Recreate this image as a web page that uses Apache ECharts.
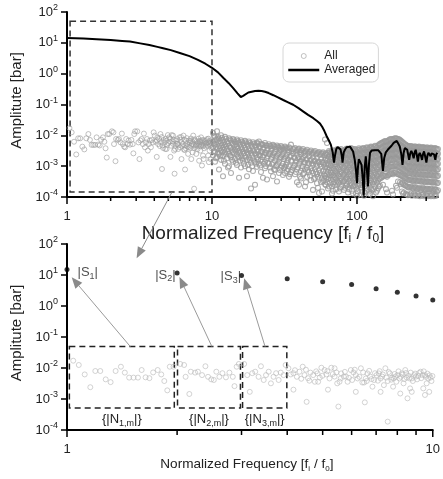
<!DOCTYPE html>
<html>
<head>
<meta charset="utf-8">
<script src="https://cdn.jsdelivr.net/npm/echarts@6/dist/echarts.min.js"></script>
<style>
  html, body { margin: 0; padding: 0; background: #fff; }
  #chart { width: 443px; height: 479px; }
</style>
</head>
<body>
<div id="chart"></div>
<script>
// ---------------- data ----------------
// Harmonic peak amplitudes |S_k| at f/f0 = 1..10
const harmonicF = [1, 2, 3, 4, 5, 6, 7, 8, 9, 10];
const harmonicAmp = [15, 11.6, 9.6, 7.6, 6.1, 4.9, 3.6, 2.8, 2.1, 1.56];
const labelledHarmonics = 3;

// Spectral noise samples below f/f0 = 10: [f/f0, amplitude]
const lowBandPts = [
  [1.04,0.0172],[1.077,0.0125],[1.118,0.0062],[1.158,0.0024],[1.195,0.008],[1.233,0.008],
  [1.276,0.0043],[1.316,0.0035],[1.358,0.008],[1.404,0.011],[1.439,0.0071],[1.479,0.0049],
  [1.52,0.0049],[1.563,0.0049],[1.60,0.0086],[1.64,0.005],[1.68,0.0047],[1.72,0.0072],
  [1.77,0.0086],[1.81,0.0062],[1.845,0.0038],[1.88,0.0019],[1.91,0.011],[1.955,0.011],
  [2.04,0.0135],[2.09,0.0125],[2.11,0.0052],[2.16,0.00145],[2.18,0.0076],[2.24,0.0071],
  [2.28,0.0076],[2.34,0.0059],[2.39,0.0114],[2.43,0.0052],[2.48,0.0043],[2.52,0.0041],
  [2.56,0.0076],[2.61,0.0052],[2.66,0.0068],[2.72,0.005],[2.78,0.0071],[2.84,0.0052],
  [2.87,0.0026],[2.91,0.011],[2.95,0.0135],
  [3.05,0.0135],[3.11,0.0059],[3.16,0.0017],[3.21,0.0068],[3.27,0.0076],[3.34,0.0052],
  [3.39,0.0114],[3.45,0.0041],[3.5,0.0059],[3.56,0.0076],[3.61,0.0032],[3.67,0.0052],
  [3.73,0.0068],[3.79,0.0041],[3.84,0.0071],[3.91,0.0059],[3.96,0.0125],
  [4.03,0.0098],[4.09,0.0062],[4.16,0.0068],[4.16,0.002],[4.2,0.0085],[4.25,0.0052],
  [4.32,0.0076],[4.37,0.0045],[4.41,0.011],[4.46,0.0059],[4.5,0.0088],[4.52,0.00081],
  [4.56,0.0047],[4.6,0.0039],[4.63,0.0071],
  [4.71,0.0059],[4.76,0.0036],[4.8,0.0078],[4.84,0.0067],[4.86,0.0036],[4.91,0.0049],
  [4.96,0.0102],[4.99,0.0056],[5.06,0.0086],[5.12,0.0062],[5.15,0.0079],[5.17,0.002],
  [5.22,0.0046],[5.28,0.0102],[5.33,0.0064],[5.39,0.0098],[5.39,0.0053],[5.45,0.0072],
  [5.48,0.0032],[5.52,0.00057],[5.56,0.0036],[5.6,0.0046],[5.62,0.0067],[5.71,0.0053],
  [5.75,0.0075],[5.79,0.0053],[5.85,0.0036],[5.9,0.0048],[5.97,0.0086],[6.02,0.0041],
  [6.07,0.0072],[6.12,0.0088],[6.16,0.0059],[6.16,0.0017],[6.23,0.0046],[6.3,0.0052],
  [6.36,0.0098],[6.42,0.0034],[6.45,0.0072],[6.49,0.0034],[6.52,0.00078],[6.56,0.0046],
  [6.6,0.0038],[6.63,0.0067],[6.7,0.0081],[6.74,0.0053],[6.8,0.0044],[6.84,0.0025],
  [6.91,0.0041],[6.95,0.0068],[7.02,0.0059],[7.08,0.0039],[7.12,0.0067],[7.16,0.0079],
  [7.2,0.0046],[7.2,0.0017],[7.27,0.0053],[7.3,0.0062],[7.35,0.0028],[7.42,0.0098],
  [7.46,0.0049],[7.53,0.0038],[7.53,0.000186],[7.58,0.0074],[7.63,0.0067],[7.7,0.0042],
  [7.74,0.0049],[7.79,0.0025],[7.82,0.0046],[7.86,0.0064],[7.9,0.0053],[7.95,0.0036],
  [8.01,0.0059],[8.06,0.0078],[8.11,0.0046],[8.15,0.0015],[8.18,0.0052],[8.23,0.0067],
  [8.28,0.0061],[8.32,0.0032],[8.36,0.0044],[8.41,0.0086],[8.45,0.0069],[8.49,0.0049],
  [8.53,0.00105],[8.58,0.0057],[8.64,0.0046],[8.67,0.0022],[8.7,0.0071],[8.76,0.0046],
  [8.76,0.0017],[8.82,0.0038],[8.89,0.0059],[8.95,0.0066],[9.0,0.0053],[9.06,0.0043],
  [9.13,0.0055],[9.18,0.0069],[9.26,0.0076],[9.3,0.0047],[9.38,0.0059],[9.42,0.0022],
  [9.45,0.0078],[9.52,0.0059],[9.52,0.00135],[9.57,0.0052],[9.62,0.0032],[9.67,0.0066],
  [9.72,0.0046],[9.78,0.0017],[9.8,0.0058],[9.86,0.0049],[9.92,0.0038],[9.98,0.0055]
];

// Spectral noise samples above f/f0 = 10, one row per frequency: [f/f0, amplitudes...]
const highBandCols = [
  [10.16, 1.2e-2, 6.3e-3, 4.0e-3, 2.2e-3],
  [10.49, 8.9e-3, 5.0e-3, 2.8e-3, 1.4e-3],
  [10.83, 1.35e-2, 7.1e-3, 3.6e-3, 2.0e-3],
  [11.18, 7.9e-3, 4.5e-3, 2.5e-3, 7.8e-4],
  [11.54, 1.0e-2, 5.6e-3, 3.2e-3, 1.6e-3],
  [11.91, 7.1e-3, 4.0e-3, 2.2e-3, 4.7e-4],
  [12.29, 8.9e-3, 5.0e-3, 2.8e-3, 1.2e-3],
  [12.69, 6.3e-3, 3.6e-3, 1.8e-3],
  [13.10, 8.1e-3, 4.5e-3, 2.5e-3, 1.0e-3],
  [13.52, 6.8e-3, 3.9e-3, 2.0e-3, 6.0e-4],
  [13.96, 7.6e-3, 5.2e-3, 2.9e-3, 1.4e-3],
  [14.41, 6.1e-3, 3.4e-3, 1.7e-3],
  [14.87, 7.3e-3, 4.3e-3, 2.4e-3, 1.1e-3],
  [15.36, 5.8e-3, 3.2e-3, 1.9e-3, 4.2e-4],
  [15.85, 6.9e-3, 4.1e-3, 2.2e-3, 9.0e-4],
  [16.36, 5.5e-3, 3.0e-3, 1.5e-3],
  [16.89, 6.6e-3, 3.8e-3, 2.1e-3, 1.0e-3],
  [17.43, 5.2e-3, 2.9e-3, 1.6e-3, 4.7e-4],
  [17.99, 6.3e-3, 3.5e-3, 1.9e-3, 8.0e-4],
  [18.58, 5.0e-3, 2.7e-3, 1.3e-3, 1.9e-4],
  [19.17, 6.0e-3, 3.3e-3, 1.8e-3, 7.0e-4],
  [19.80, 4.8e-3, 2.6e-3, 1.4e-3, 2.5e-4],
  [20.43, 5.8e-3, 3.4e-3, 1.9e-3, 9.5e-4],
  [21.09, 6.3e-3, 4.3e-3, 2.4e-3, 1.2e-3],
  [21.77, 5.3e-3, 3.0e-3, 1.6e-3, 6.5e-4],
  [22.47, 4.9e-3, 3.6e-3, 2.0e-3, 4.2e-4],
  [23.20, 5.6e-3, 2.7e-3, 1.4e-3, 8.5e-4],
  [23.95, 4.6e-3, 3.3e-3, 1.8e-3, 3.7e-4],
  [24.72, 5.1e-3, 2.5e-3, 1.2e-3],
  [25.52, 4.4e-3, 3.1e-3, 1.7e-3, 6.8e-4],
  [26.34, 4.9e-3, 2.3e-3, 1.3e-3, 4.7e-4],
  [27.19, 4.2e-3, 2.9e-3, 1.5e-3, 7.5e-4],
  [28.07, 4.7e-3, 2.2e-3, 1.1e-3, 3.2e-4],
  [28.97, 4.0e-3, 2.7e-3, 1.4e-3, 6.0e-4],
  [29.91, 4.5e-3, 3.3e-3, 2.0e-3, 9.0e-4],
  [30.87, 3.8e-3, 2.5e-3, 1.2e-3, 5.2e-4],
  [31.87, 4.3e-3, 1.9e-3, 9.5e-4, 6.0e-4],
  [32.90, 3.7e-3, 2.4e-3, 1.3e-3, 7.0e-4],
  [33.96, 4.1e-3, 2.9e-3, 1.0e-3, 4.5e-4],
  [35.05, 5.0e-3, 2.2e-3, 1.5e-3, 6.5e-4],
  [36.19, 3.5e-3, 2.6e-3, 9.0e-4],
  [37.35, 3.9e-3, 1.8e-3, 1.1e-3, 5.5e-4],
  [38.56, 3.3e-3, 2.3e-3, 8.0e-4, 3.0e-4],
  [39.81, 3.7e-3, 2.0e-3, 1.2e-3, 2.5e-4],
  [41.09, 3.2e-3, 2.4e-3, 1.5e-3, 7.0e-4, 4.0e-4],
  [42.42, 3.6e-3, 1.9e-3, 1.0e-3, 5.5e-4],
  [43.79, 3.0e-3, 2.2e-3, 1.3e-3, 8.0e-4, 2.2e-4],
  [45.20, 3.4e-3, 1.7e-3, 9.0e-4, 4.5e-4],
  [46.67, 2.9e-3, 2.1e-3, 1.2e-3, 6.5e-4],
  [48.17, 3.2e-3, 1.6e-3, 8.5e-4, 3.5e-4],
  [49.72, 2.7e-3, 1.9e-3, 1.1e-3, 6.0e-4, 1.7e-4],
  [51.33, 3.1e-3, 1.5e-3, 8.0e-4, 4.2e-4],
  [52.99, 2.6e-3, 1.8e-3, 1.0e-3, 5.5e-4, 2.8e-4],
  [54.70, 2.9e-3, 1.4e-3, 7.5e-4, 1.35e-4],
  [56.46, 2.5e-3, 1.7e-3, 9.5e-4, 5.0e-4, 3.0e-4],
  [58.29, 2.8e-3, 1.3e-3, 7.0e-4, 3.2e-4],
  [60.17, 7.3e-3, 2.4e-3, 1.6e-3, 9.0e-4, 4.8e-4, 2.6e-4],
  [62.11, 5.6e-3, 2.3e-3, 1.5e-3, 9.0e-4, 5.5e-4, 3.0e-4],
  [64.11, 3.1e-3, 2.0e-3, 1.2e-3, 7.5e-4, 4.2e-4, 2.2e-4],
  [66.18, 2.6e-3, 1.7e-3, 1.05e-3, 6.2e-4, 3.6e-4],
  [68.32, 3.3e-3, 2.2e-3, 1.4e-3, 8.5e-4, 5.0e-4, 2.7e-4, 1.6e-4],
  [70.52, 2.8e-3, 1.9e-3, 1.15e-3, 7.0e-4, 4.4e-4, 2.4e-4],
  [72.80, 3.5e-3, 2.4e-3, 1.6e-3, 9.5e-4, 5.8e-4, 3.4e-4],
  [75.15, 3.0e-3, 2.0e-3, 1.3e-3, 8.0e-4, 4.8e-4, 2.9e-4, 1.5e-4],
  [77.58, 3.6e-3, 2.5e-3, 1.7e-3, 1.1e-3, 6.5e-4, 3.9e-4, 2.1e-4],
  [80.08, 2.9e-3, 2.1e-3, 1.4e-3, 8.8e-4, 5.3e-4, 3.1e-4],
  [82.67, 3.4e-3, 2.3e-3, 1.5e-3, 1.0e-3, 6.0e-4, 3.6e-4, 2.0e-4],
  [85.33, 3.7e-3, 2.6e-3, 1.8e-3, 1.2e-3, 7.3e-4, 4.3e-4, 2.6e-4],
  [88.09, 3.1e-3, 2.2e-3, 1.45e-3, 9.2e-4, 5.6e-4, 3.3e-4, 1.8e-4],
  [90.93, 3.9e-3, 2.7e-3, 1.9e-3, 1.25e-3, 7.8e-4, 4.7e-4, 2.8e-4],
  [93.86, 3.3e-3, 2.3e-3, 1.55e-3, 1.0e-3, 6.1e-4, 3.7e-4, 2.2e-4, 1.3e-4],
  [96.89, 3.6e-3, 2.5e-3, 1.7e-3, 1.1e-3, 6.8e-4, 4.1e-4, 2.4e-4],
  [100.0, 3.0e-3, 2.1e-3, 1.4e-3, 9.0e-4, 5.4e-4, 3.2e-4, 1.9e-4, 1.1e-4],
  [103.2, 3.8e-3, 2.6e-3, 1.8e-3, 1.2e-3, 7.4e-4, 4.5e-4, 2.7e-4],
  [106.6, 3.2e-3, 2.2e-3, 1.5e-3, 9.8e-4, 6.0e-4, 3.5e-4, 2.0e-4, 1.2e-4],
  [110.0, 3.9e-3, 2.8e-3, 1.9e-3, 1.3e-3, 8.2e-4, 5.0e-4, 3.0e-4],
  [113.6, 3.4e-3, 2.4e-3, 1.6e-3, 1.05e-3, 6.6e-4, 3.9e-4, 2.3e-4, 1.4e-4],
  [117.2, 4.1e-3, 2.9e-3, 2.0e-3, 1.3e-3, 8.6e-4, 5.2e-4, 3.1e-4],
  [121.0, 3.5e-3, 2.5e-3, 1.7e-3, 1.1e-3, 7.0e-4, 4.2e-4, 2.5e-4, 1.5e-4],
  [124.9, 4.3e-3, 3.0e-3, 2.1e-3, 1.4e-3, 9.0e-4, 5.6e-4, 3.4e-4, 1.9e-4],
  [128.9, 3.7e-3, 2.6e-3, 1.8e-3, 1.2e-3, 7.6e-4, 4.6e-4, 2.7e-4, 1.05e-4],
  [133.1, 4.6e-3, 3.2e-3, 2.2e-3, 1.5e-3, 9.6e-4, 6.0e-4, 3.6e-4, 2.1e-4],
  [137.4, 4.0e-3, 2.8e-3, 1.9e-3, 1.25e-3, 8.0e-4, 4.9e-4, 2.9e-4, 1.6e-4],
  [141.8, 5.0e-3, 3.5e-3, 2.4e-3, 1.6e-3, 1.05e-3, 6.4e-4, 3.8e-4, 2.2e-4],
  [146.4, 5.5e-3, 3.9e-3, 2.7e-3, 1.8e-3, 1.15e-3, 7.0e-4, 4.2e-4],
  [151.1, 6.0e-3, 4.2e-3, 2.9e-3, 1.9e-3, 1.25e-3, 7.8e-4, 4.7e-4, 2.5e-4],
  [156.0, 6.5e-3, 4.6e-3, 3.2e-3, 2.1e-3, 1.35e-3, 8.4e-4, 5.0e-4],
  [161.0, 6.2e-3, 4.4e-3, 3.0e-3, 2.0e-3, 1.3e-3, 8.0e-4, 4.5e-4, 1.4e-4],
  [166.2, 7.1e-3, 5.0e-3, 3.5e-3, 2.3e-3, 1.5e-3, 9.0e-4, 5.3e-4],
  [171.6, 7.6e-3, 5.4e-3, 3.7e-3, 2.5e-3, 1.6e-3, 1.0e-3, 6.0e-4],
  [177.2, 7.3e-3, 5.2e-3, 3.6e-3, 2.4e-3, 1.55e-3, 9.5e-4, 5.5e-4, 1.2e-4],
  [182.9, 8.0e-3, 5.6e-3, 3.9e-3, 2.6e-3, 1.7e-3, 1.05e-3, 6.3e-4],
  [188.8, 7.8e-3, 5.5e-3, 3.8e-3, 2.5e-3, 1.6e-3, 9.8e-4, 5.7e-4, 2.0e-4],
  [194.9, 7.4e-3, 5.1e-3, 3.5e-3, 2.3e-3, 1.5e-3, 9.2e-4, 5.4e-4],
  [201.1, 6.6e-3, 4.6e-3, 3.2e-3, 2.1e-3, 1.4e-3, 8.6e-4, 5.0e-4, 2.6e-4],
  [207.6, 5.8e-3, 4.1e-3, 2.8e-3, 1.9e-3, 1.25e-3, 7.7e-4, 4.6e-4, 2.7e-4, 1.3e-4],
  [214.3, 5.1e-3, 3.6e-3, 2.5e-3, 1.7e-3, 1.1e-3, 6.9e-4, 4.1e-4, 2.4e-4],
  [221.3, 4.6e-3, 3.3e-3, 2.3e-3, 1.5e-3, 1.0e-3, 6.3e-4, 3.8e-4, 2.2e-4, 1.2e-4],
  [228.4, 4.3e-3, 3.0e-3, 2.1e-3, 1.4e-3, 9.2e-4, 5.8e-4, 3.5e-4, 2.0e-4],
  [235.8, 4.5e-3, 3.2e-3, 2.2e-3, 1.5e-3, 9.8e-4, 6.1e-4, 3.7e-4, 2.2e-4, 1.3e-4],
  [243.4, 4.1e-3, 2.9e-3, 2.0e-3, 1.35e-3, 8.8e-4, 5.5e-4, 3.3e-4, 1.9e-4],
  [251.2, 4.4e-3, 3.1e-3, 2.2e-3, 1.45e-3, 9.5e-4, 6.0e-4, 3.6e-4, 2.1e-4, 1.15e-4],
  [259.4, 4.0e-3, 2.8e-3, 1.95e-3, 1.3e-3, 8.5e-4, 5.3e-4, 3.2e-4, 1.8e-4],
  [267.7, 4.3e-3, 3.0e-3, 2.1e-3, 1.4e-3, 9.2e-4, 5.8e-4, 3.5e-4, 2.0e-4, 1.1e-4],
  [276.4, 3.9e-3, 2.8e-3, 1.9e-3, 1.3e-3, 8.4e-4, 5.2e-4, 3.1e-4, 1.7e-4],
  [285.3, 4.2e-3, 3.0e-3, 2.0e-3, 1.4e-3, 9.0e-4, 5.6e-4, 3.4e-4, 2.0e-4, 1.2e-4],
  [294.4, 3.8e-3, 2.7e-3, 1.85e-3, 1.25e-3, 8.2e-4, 5.1e-4, 3.0e-4, 1.7e-4],
  [304.0, 4.1e-3, 2.9e-3, 2.0e-3, 1.35e-3, 8.9e-4, 5.5e-4, 3.3e-4, 1.9e-4, 1.1e-4],
  [313.8, 3.7e-3, 2.6e-3, 1.8e-3, 1.2e-3, 8.0e-4, 5.0e-4, 3.0e-4, 1.7e-4],
  [323.9, 4.0e-3, 2.8e-3, 1.95e-3, 1.3e-3, 8.6e-4, 5.4e-4, 3.2e-4, 1.9e-4, 1.05e-4],
  [334.4, 3.6e-3, 2.5e-3, 1.75e-3, 1.2e-3, 7.8e-4, 4.8e-4, 2.9e-4, 1.6e-4],
  [345.1, 3.9e-3, 2.7e-3, 1.9e-3, 1.3e-3, 8.4e-4, 5.2e-4, 3.1e-4, 1.8e-4, 1.1e-4],
  [356.2, 3.5e-3, 2.5e-3, 1.7e-3, 1.15e-3, 7.5e-4, 4.7e-4, 2.8e-4, 1.5e-4]
];

// Further samples of the same band, at the frequency bins in between
const highBandColsB = [
  [10.32, 9.5e-3, 5.4e-3, 3.1e-3], [10.66, 7.5e-3, 4.2e-3, 1.8e-3], [11.00, 9.0e-3, 5.8e-3, 2.7e-3],
  [11.36, 6.6e-3, 3.8e-3, 2.1e-3], [11.72, 8.4e-3, 4.8e-3, 2.9e-3], [12.10, 6.0e-3, 3.4e-3, 1.5e-3],
  [12.49, 7.7e-3, 4.4e-3, 2.4e-3], [12.89, 5.4e-3, 3.0e-3, 9.0e-4], [13.31, 7.3e-3, 4.1e-3, 2.2e-3],
  [13.74, 5.6e-3, 3.2e-3, 1.6e-3], [14.18, 6.9e-3, 4.6e-3, 2.6e-3], [14.64, 5.2e-3, 3.0e-3, 1.3e-3],
  [15.11, 6.5e-3, 3.7e-3, 2.0e-3], [15.60, 5.0e-3, 2.8e-3, 1.5e-3], [16.10, 6.2e-3, 3.5e-3, 1.8e-3],
  [16.62, 4.8e-3, 2.6e-3, 1.2e-3], [17.16, 5.9e-3, 3.3e-3, 1.9e-3], [17.71, 4.6e-3, 2.5e-3, 1.1e-3],
  [18.28, 5.6e-3, 3.1e-3, 1.6e-3], [18.87, 4.4e-3, 2.3e-3, 1.0e-3], [19.48, 5.3e-3, 3.0e-3, 1.5e-3],
  [20.11, 4.3e-3, 2.4e-3, 1.2e-3], [20.76, 5.2e-3, 2.9e-3, 1.6e-3], [21.43, 4.2e-3, 2.2e-3, 1.05e-3],
  [22.12, 5.0e-3, 2.8e-3, 1.4e-3], [22.83, 4.0e-3, 2.3e-3, 1.2e-3], [23.57, 4.8e-3, 2.6e-3, 1.0e-3],
  [24.33, 3.9e-3, 2.1e-3, 1.3e-3], [25.12, 4.6e-3, 2.5e-3, 9.0e-4], [25.93, 3.8e-3, 2.0e-3, 1.15e-3],
  [26.76, 4.5e-3, 2.6e-3, 8.0e-4], [27.63, 3.6e-3, 1.9e-3, 1.0e-3], [28.52, 4.3e-3, 2.4e-3, 1.2e-3],
  [29.44, 3.5e-3, 1.8e-3, 7.5e-4], [30.39, 4.1e-3, 2.2e-3, 1.0e-3], [31.37, 3.4e-3, 1.7e-3, 8.5e-4],
  [32.38, 3.9e-3, 2.1e-3, 1.1e-3], [33.42, 3.3e-3, 1.6e-3, 8.0e-4], [34.50, 3.8e-3, 2.0e-3, 5.5e-4],
  [35.62, 3.1e-3, 1.5e-3, 7.5e-4], [36.77, 3.6e-3, 1.9e-3, 1.0e-3], [37.95, 3.0e-3, 1.45e-3, 6.5e-4],
  [39.18, 3.5e-3, 1.8e-3, 9.0e-4], [40.44, 2.9e-3, 1.4e-3, 4.5e-4], [41.75, 3.3e-3, 1.7e-3, 8.5e-4],
  [43.09, 2.8e-3, 1.35e-3, 6.0e-4], [44.48, 3.1e-3, 1.6e-3, 3.0e-4], [45.92, 2.6e-3, 1.3e-3, 7.5e-4],
  [47.40, 3.0e-3, 1.5e-3, 5.0e-4], [48.93, 2.5e-3, 1.25e-3, 7.0e-4], [50.51, 2.9e-3, 1.45e-3, 3.8e-4],
  [52.14, 2.4e-3, 1.2e-3, 6.5e-4], [53.82, 2.7e-3, 1.4e-3, 4.5e-4, 2.0e-4], [55.56, 2.3e-3, 1.15e-3, 6.0e-4],
  [57.35, 2.6e-3, 1.35e-3, 4.0e-4, 1.5e-4], [59.20, 2.2e-3, 1.1e-3, 5.5e-4, 3.5e-4],
  [61.1, 2.6e-3, 1.8e-3, 1.15e-3, 7.0e-4, 4.2e-4, 2.4e-4],
  [63.1, 2.7e-3, 1.75e-3, 1.1e-3, 6.5e-4, 3.8e-4, 1.9e-4],
  [65.1, 2.9e-3, 2.2e-3, 1.4e-3, 8.5e-4, 5.0e-4, 2.9e-4],
  [67.2, 3.0e-3, 1.9e-3, 1.25e-3, 7.5e-4, 4.5e-4, 2.2e-4, 1.3e-4],
  [69.4, 3.1e-3, 2.1e-3, 1.35e-3, 8.2e-4, 5.2e-4, 3.0e-4],
  [71.7, 3.2e-3, 2.2e-3, 1.35e-3, 8.2e-4, 5.0e-4, 2.9e-4, 1.8e-4],
  [73.9, 3.3e-3, 2.2e-3, 1.45e-3, 8.8e-4, 5.3e-4, 3.1e-4],
  [76.3, 3.3e-3, 2.3e-3, 1.5e-3, 9.5e-4, 5.7e-4, 3.4e-4, 1.9e-4],
  [78.8, 3.2e-3, 2.3e-3, 1.55e-3, 9.8e-4, 6.0e-4, 3.5e-4, 2.3e-4],
  [81.4, 3.2e-3, 2.2e-3, 1.45e-3, 9.2e-4, 5.6e-4, 3.3e-4, 1.7e-4],
  [84.0, 3.5e-3, 2.5e-3, 1.6e-3, 1.05e-3, 6.5e-4, 3.9e-4, 2.3e-4],
  [86.7, 3.4e-3, 2.4e-3, 1.6e-3, 1.05e-3, 6.4e-4, 3.8e-4, 2.1e-4, 1.4e-4],
  [89.5, 3.5e-3, 2.4e-3, 1.65e-3, 1.1e-3, 6.8e-4, 4.0e-4, 2.4e-4],
  [92.4, 3.6e-3, 2.5e-3, 1.7e-3, 1.1e-3, 6.9e-4, 4.1e-4, 2.5e-4, 1.6e-4],
  [95.3, 3.5e-3, 2.4e-3, 1.65e-3, 1.05e-3, 6.5e-4, 3.9e-4, 2.3e-4],
  [98.4, 3.3e-3, 2.3e-3, 1.55e-3, 1.0e-3, 6.2e-4, 3.7e-4, 2.2e-4, 1.3e-4],
  [101.6, 3.4e-3, 2.4e-3, 1.6e-3, 1.05e-3, 6.5e-4, 3.9e-4, 2.3e-4, 1.5e-4],
  [104.9, 3.5e-3, 2.4e-3, 1.65e-3, 1.1e-3, 6.7e-4, 4.0e-4, 2.4e-4],
  [108.3, 3.6e-3, 2.5e-3, 1.7e-3, 1.15e-3, 7.0e-4, 4.2e-4, 2.5e-4, 1.5e-4],
  [111.8, 3.7e-3, 2.6e-3, 1.75e-3, 1.15e-3, 7.2e-4, 4.4e-4, 2.6e-4, 1.1e-4],
  [115.4, 3.8e-3, 2.7e-3, 1.8e-3, 1.2e-3, 7.5e-4, 4.6e-4, 2.7e-4, 1.6e-4],
  [119.1, 3.9e-3, 2.7e-3, 1.85e-3, 1.2e-3, 7.8e-4, 4.7e-4, 2.8e-4, 1.7e-4],
  [122.9, 4.0e-3, 2.8e-3, 1.9e-3, 1.25e-3, 8.0e-4, 4.9e-4, 2.9e-4, 1.25e-4],
  [126.9, 4.1e-3, 2.9e-3, 2.0e-3, 1.3e-3, 8.4e-4, 5.1e-4, 3.0e-4, 1.7e-4],
  [131.0, 4.2e-3, 3.0e-3, 2.05e-3, 1.35e-3, 8.6e-4, 5.3e-4, 3.2e-4, 1.8e-4],
  [135.2, 4.4e-3, 3.1e-3, 2.1e-3, 1.4e-3, 9.0e-4, 5.5e-4, 3.3e-4, 1.4e-4],
  [139.6, 4.6e-3, 3.3e-3, 2.2e-3, 1.45e-3, 9.4e-4, 5.8e-4, 3.4e-4, 1.9e-4],
  [144.1, 5.2e-3, 3.7e-3, 2.55e-3, 1.7e-3, 1.1e-3, 6.7e-4, 4.0e-4, 2.3e-4],
  [148.7, 5.7e-3, 4.0e-3, 2.8e-3, 1.85e-3, 1.2e-3, 7.4e-4, 4.4e-4],
  [153.6, 6.2e-3, 4.4e-3, 3.0e-3, 2.0e-3, 1.3e-3, 8.0e-4, 4.8e-4],
  [158.5, 6.4e-3, 4.5e-3, 3.1e-3, 2.1e-3, 1.35e-3, 8.2e-4, 4.9e-4, 1.8e-4],
  [163.6, 6.7e-3, 4.7e-3, 3.3e-3, 2.2e-3, 1.4e-3, 8.6e-4, 5.1e-4],
  [168.9, 7.4e-3, 5.2e-3, 3.6e-3, 2.4e-3, 1.55e-3, 9.5e-4, 5.6e-4],
  [174.3, 7.5e-3, 5.3e-3, 3.65e-3, 2.45e-3, 1.6e-3, 9.8e-4, 5.8e-4, 1.6e-4],
  [180.0, 7.7e-3, 5.4e-3, 3.75e-3, 2.5e-3, 1.6e-3, 1.0e-3, 6.0e-4],
  [185.8, 8.0e-3, 5.6e-3, 3.9e-3, 2.6e-3, 1.7e-3, 1.05e-3, 6.2e-4, 2.3e-4],
  [191.8, 7.6e-3, 5.3e-3, 3.7e-3, 2.45e-3, 1.6e-3, 9.6e-4, 5.6e-4, 3.2e-4],
  [198.0, 7.0e-3, 4.9e-3, 3.4e-3, 2.25e-3, 1.45e-3, 8.9e-4, 5.2e-4, 3.0e-4],
  [204.3, 6.2e-3, 4.4e-3, 3.0e-3, 2.0e-3, 1.3e-3, 8.0e-4, 4.8e-4, 2.9e-4, 1.5e-4],
  [210.9, 5.4e-3, 3.8e-3, 2.65e-3, 1.8e-3, 1.15e-3, 7.2e-4, 4.3e-4, 2.5e-4, 1.4e-4],
  [217.7, 4.9e-3, 3.5e-3, 2.4e-3, 1.6e-3, 1.05e-3, 6.6e-4, 4.0e-4, 2.3e-4, 1.25e-4],
  [224.8, 4.5e-3, 3.2e-3, 2.2e-3, 1.45e-3, 9.6e-4, 6.0e-4, 3.6e-4, 2.1e-4, 1.15e-4],
  [232.0, 4.4e-3, 3.1e-3, 2.15e-3, 1.45e-3, 9.5e-4, 5.9e-4, 3.6e-4, 2.1e-4, 1.2e-4],
  [239.5, 4.3e-3, 3.0e-3, 2.1e-3, 1.4e-3, 9.2e-4, 5.7e-4, 3.4e-4, 2.0e-4, 1.1e-4],
  [247.2, 4.2e-3, 3.0e-3, 2.05e-3, 1.4e-3, 9.1e-4, 5.7e-4, 3.4e-4, 2.0e-4, 1.25e-4],
  [255.2, 4.2e-3, 2.95e-3, 2.05e-3, 1.35e-3, 8.9e-4, 5.6e-4, 3.4e-4, 1.95e-4, 1.1e-4],
  [263.4, 4.1e-3, 2.9e-3, 2.0e-3, 1.35e-3, 8.8e-4, 5.5e-4, 3.3e-4, 1.9e-4, 1.2e-4],
  [271.9, 4.1e-3, 2.9e-3, 2.0e-3, 1.35e-3, 8.8e-4, 5.5e-4, 3.3e-4, 1.85e-4, 1.05e-4],
  [280.7, 4.0e-3, 2.9e-3, 1.95e-3, 1.35e-3, 8.7e-4, 5.4e-4, 3.2e-4, 1.85e-4, 1.15e-4],
  [289.7, 4.0e-3, 2.85e-3, 1.95e-3, 1.3e-3, 8.6e-4, 5.3e-4, 3.2e-4, 1.8e-4, 1.05e-4],
  [299.1, 3.9e-3, 2.8e-3, 1.9e-3, 1.3e-3, 8.5e-4, 5.3e-4, 3.1e-4, 1.8e-4, 1.15e-4],
  [308.7, 3.9e-3, 2.75e-3, 1.9e-3, 1.28e-3, 8.4e-4, 5.2e-4, 3.1e-4, 1.8e-4, 1.05e-4],
  [318.7, 3.8e-3, 2.7e-3, 1.85e-3, 1.25e-3, 8.2e-4, 5.2e-4, 3.1e-4, 1.8e-4, 1.1e-4],
  [329.0, 3.8e-3, 2.65e-3, 1.85e-3, 1.25e-3, 8.2e-4, 5.1e-4, 3.0e-4, 1.75e-4, 1.15e-4],
  [339.6, 3.7e-3, 2.6e-3, 1.8e-3, 1.25e-3, 8.1e-4, 5.0e-4, 3.0e-4, 1.7e-4, 1.05e-4],
  [350.5, 3.7e-3, 2.6e-3, 1.8e-3, 1.2e-3, 8.0e-4, 5.0e-4, 3.0e-4, 1.7e-4, 1.1e-4],
  [361.8, 3.6e-3, 2.55e-3, 1.75e-3, 1.2e-3, 7.9e-4, 4.9e-4, 2.9e-4, 1.65e-4]
];

// Averaged spectrum
const avgF = [1, 1.3, 1.6, 2, 2.4, 2.72, 3.2, 3.7, 4.2, 4.6, 5.2, 6, 7, 8, 9, 10, 11, 12, 13, 14, 15,
  15.8, 16.4, 16.9, 17.8, 18.8, 19.8, 20.9, 22, 23.2, 24.6, 26.5, 28.5, 31, 33.5, 36.3, 39.5, 42.7,
  46, 50, 53, 55.6, 57.5, 59.5, 61.7, 64, 66, 68, 69.4, 70.5, 72, 73.5, 75.5, 77, 78.5, 79.5, 81,
  82.6, 84.8, 87, 89.5, 91.7, 94, 96.5, 98.5, 100, 101.5, 103, 105, 107.5, 109.5, 111.3, 113, 115,
  117, 119, 121, 123, 126, 129, 132.5, 136, 140, 144, 147, 151, 154, 158, 163, 168, 173, 179, 184,
  188, 192, 197, 202, 206, 210, 214, 218, 222, 226, 229, 233, 237, 241, 246, 250, 254, 258, 263,
  267, 271, 276, 281, 285, 290, 295, 301, 306, 311, 316, 322, 327, 334, 340, 347, 352, 358, 362];
const avgA = [14.3, 13.8, 13.1, 12.3, 11.5, 11.0, 9.6, 8.5, 7.4, 6.7, 5.8, 4.7, 3.7, 2.8, 2.1, 1.55,
  1.1, 0.72, 0.5, 0.34, 0.23, 0.175, 0.19, 0.22, 0.245, 0.26, 0.275, 0.28, 0.275, 0.26, 0.235, 0.2,
  0.17, 0.14, 0.118, 0.098, 0.076, 0.059, 0.046, 0.036, 0.029, 0.024, 0.019, 0.014, 0.0095, 0.0068,
  0.005, 0.0028, 0.0013, 0.0022, 0.0036, 0.0042, 0.0044, 0.0035, 0.0022, 0.0013, 0.0028, 0.0034,
  0.0041, 0.0044, 0.0043, 0.0039, 0.003, 0.0016, 0.0007, 0.00028, 0.0009, 0.0017, 0.0014, 0.0011,
  0.0004, 0.00011, 0.0009, 0.0021, 0.0008, 0.00022, 0.0012, 0.0027, 0.0032, 0.0035, 0.0033, 0.003,
  0.0033, 0.0035, 0.0025, 0.0007, 0.0018, 0.0028, 0.0034, 0.0039, 0.0046, 0.0057, 0.0064, 0.0066,
  0.0058, 0.0044, 0.0025, 0.0011, 0.0028, 0.0039, 0.0037, 0.0034, 0.0022, 0.0016, 0.0026, 0.0031,
  0.0026, 0.0018, 0.0028, 0.0034, 0.0024, 0.0014, 0.0023, 0.0027, 0.0022, 0.0016, 0.0024, 0.003,
  0.0021, 0.0013, 0.0022, 0.0027, 0.0024, 0.0021, 0.0026, 0.003, 0.0024, 0.0016, 0.0024, 0.0027, 0.0025];

// Axis ticks (f/f0)
const topMajorTicks = [1, 10, 100];
const topMinorTicks = [2, 3, 4, 5, 6, 7, 8, 9, 20, 30, 40, 50, 60, 70, 80, 90, 200, 300];
const bottomMajorTicks = [1, 10];
const bottomMinorTicks = [2, 3, 4, 5, 6, 7, 8, 9];

// Annotation geometry in data units
const zoomBoxF = [1.05, 10];
const zoomBoxA = [1.45e-4, 50];
const windowF = [[1.015, 1.965], [2.005, 2.98], [3.02, 3.99]];
const windowA = [5.1e-4, 0.049];
const windowNames = ['1,m', '2,m', '3,m'];
const windowArrowFrom = [1.49, 2.49, 3.48];
const windowArrowTo = [[1.03, 8.4], [2.03, 8.6], [3.05, 7.8]];
const zoomArrowFrom = [5.3, 1.45e-4];
const zoomArrowTo = [1.55, 35];

// ---------------- chart ----------------
const FONT = 'Liberation Sans, Arial, sans-serif';
const TXT = '#222';

const highPts = [];
highBandCols.concat(highBandColsB).forEach(col => {
  for (let i = 1; i < col.length; i++) highPts.push([col[0], col[i]]);
});
const avgData = avgF.map((f, i) => [f, avgA[i]]);

function isDecade(v) {
  const e = Math.log10(v);
  return Math.abs(e - Math.round(e)) < 1e-6;
}
const yLabel = {
  margin: 9,
  formatter: v => '{b|10}{e|' + Math.round(Math.log10(v)) + '}',
  rich: {
    b: { fontFamily: FONT, fontSize: 13, color: TXT, lineHeight: 17 },
    e: { fontFamily: FONT, fontSize: 9, color: TXT, lineHeight: 9, verticalAlign: 'top' }
  }
};
const xLabel = {
  margin: 13, fontFamily: FONT, fontSize: 13, color: TXT,
  formatter: v => isDecade(v) ? String(Math.round(v)) : ''
};
const axisLineStyle = { show: true, onZero: false, lineStyle: { color: '#000', width: 2 } };

function xName(size) {
  const sub = Math.round(size * 0.62);
  return {
    text: '{t|Normalized Frequency [f}{s|i}{t| / f}{s|0}{t|]}',
    rich: {
      t: { fontFamily: FONT, fontSize: size, color: TXT, lineHeight: size + 4 },
      s: { fontFamily: FONT, fontSize: sub, color: TXT, lineHeight: sub, verticalAlign: 'bottom' }
    }
  };
}
const xNameTop = xName(19);
const xNameBottom = xName(13.6);

function tickSeries(values, axisIdx, len) {
  return {
    type: 'custom', xAxisIndex: axisIdx, yAxisIndex: axisIdx, silent: true, z: 5,
    data: values.map(v => [v]),
    renderItem: (params, api) => {
      const cs = params.coordSys;
      const x = api.coord([api.value(0), 1e-4])[0];
      const y0 = cs.y + cs.height;
      return { type: 'line', shape: { x1: x, y1: y0, x2: x, y2: y0 + len },
               style: { stroke: '#000', lineWidth: 1.5 } };
    }
  };
}

const hollow = (stroke, w) => ({ color: 'rgba(0,0,0,0)', borderColor: stroke, borderWidth: w });
const dash = [6, 4];
const chart = echarts.init(document.getElementById('chart'), null, { renderer: 'canvas' });

chart.setOption({
  animation: false,
  textStyle: { fontFamily: FONT },
  grid: [
    { left: 67, top: 12, width: 371, height: 185 },
    { left: 67, top: 244, width: 371, height: 186 }
  ],
  legend: {
    orient: 'vertical', left: 283, top: 43,
    padding: [6, 3, 5, 4], itemGap: 0, itemWidth: 31, itemHeight: 5,
    borderColor: '#d6d6d6', borderWidth: 1, borderRadius: 6,
    textStyle: { fontFamily: FONT, fontSize: 12, color: TXT, lineHeight: 14 },
    data: [
      { name: 'All', itemStyle: hollow('#9d9d9d', 0.8) },
      { name: 'Averaged', itemStyle: { opacity: 0 }, lineStyle: { color: '#000', width: 2.5 } }
    ]
  },
  xAxis: [
    { type: 'log', gridIndex: 0, min: 1, max: 362, logBase: 10,
      axisLine: axisLineStyle, axisTick: { show: false }, splitLine: { show: false },
      axisLabel: xLabel,
      name: xNameTop.text, nameLocation: 'middle', nameGap: 21,
      nameTextStyle: { rich: xNameTop.rich, padding: [0, 0, 0, 21] } },
    { type: 'log', gridIndex: 1, min: 1, max: 10, logBase: 10,
      axisLine: axisLineStyle, axisTick: { show: false }, splitLine: { show: false },
      axisLabel: xLabel,
      name: xNameBottom.text, nameLocation: 'middle', nameGap: 24,
      nameTextStyle: { rich: xNameBottom.rich, padding: [0, 6, 0, 0] } }
  ],
  yAxis: [0, 1].map(i => ({
    type: 'log', gridIndex: i, min: 1e-4, max: 100, logBase: 10,
    axisLine: axisLineStyle,
    axisTick: { show: true, length: 6, lineStyle: { color: '#000', width: 1.5 } },
    splitLine: { show: false },
    axisLabel: yLabel,
    name: 'Amplitute [bar]', nameLocation: 'middle', nameGap: 38,
    nameTextStyle: { fontFamily: FONT, fontSize: 15, color: TXT, padding: [0, 0, 0, 8] }
  })),
  series: [
    {
      name: 'All', type: 'scatter', xAxisIndex: 0, yAxisIndex: 0, z: 1,
      symbol: 'circle', symbolSize: 5, silent: true,
      itemStyle: hollow('#9d9d9d', 0.8),
      data: lowBandPts,
      markArea: {
        silent: true,
        itemStyle: { color: 'rgba(0,0,0,0)', borderColor: '#333', borderWidth: 1.5, borderType: dash },
        data: [[{ coord: [zoomBoxF[0], zoomBoxA[1]] }, { coord: [zoomBoxF[1], zoomBoxA[0]] }]]
      }
    },
    {
      name: 'All', type: 'scatter', xAxisIndex: 0, yAxisIndex: 0, z: 1,
      symbol: 'circle', symbolSize: 5, silent: true,
      itemStyle: hollow('#9a9a9a', 1.05),
      data: highPts
    },
    {
      name: 'Averaged', type: 'line', xAxisIndex: 0, yAxisIndex: 0, z: 3,
      symbol: 'none', showSymbol: false, silent: true,
      lineStyle: { color: '#000', width: 2 }, itemStyle: { color: '#000' },
      data: avgData
    },
    {
      name: 'All', type: 'scatter', xAxisIndex: 1, yAxisIndex: 1, z: 1,
      symbol: 'circle', symbolSize: 5, silent: true,
      itemStyle: hollow('#b9b9b9', 0.8),
      data: lowBandPts,
      markArea: {
        silent: true,
        itemStyle: { color: 'rgba(0,0,0,0)', borderColor: '#222', borderWidth: 1.5, borderType: dash },
        label: {
          show: true, position: 'bottom', distance: 3,
          fontFamily: FONT, fontSize: 13, color: TXT,
          formatter: p => '{b|{|N}{s|' + p.name + '}{b||}}',
          rich: {
            b: { fontFamily: FONT, fontSize: 13, color: TXT, lineHeight: 16 },
            s: { fontFamily: FONT, fontSize: 9, color: TXT, lineHeight: 9, verticalAlign: 'bottom' }
          }
        },
        data: windowF.map((w, i) => [
          { name: windowNames[i], coord: [w[0], windowA[1]] },
          { coord: [w[1], windowA[0]] }
        ])
      }
    },
    {
      name: 'harmonics', type: 'scatter', xAxisIndex: 1, yAxisIndex: 1, z: 4,
      symbol: 'circle', symbolSize: 5, silent: true,
      itemStyle: { color: '#000' },
      label: {
        fontFamily: FONT, fontSize: 13, color: TXT,
        rich: {
          t: { fontFamily: FONT, fontSize: 13, color: TXT, lineHeight: 16 },
          s: { fontFamily: FONT, fontSize: 9, color: TXT, lineHeight: 9, verticalAlign: 'bottom' }
        }
      },
      data: harmonicF.map((f, i) => {
        const item = { value: [f, harmonicAmp[i]] };
        if (i < labelledHarmonics) {
          item.label = {
            show: true,
            position: i === 0 ? 'right' : 'left',
            distance: i === 0 ? 8 : 4,
            offset: i === 0 ? [0, 3] : (i === 1 ? [5, 2] : [6, 1]),
            formatter: '{t||S}{s|' + (i + 1) + '}{t||}'
          };
        }
        return item;
      })
    },
    tickSeries(topMajorTicks, 0, 7),
    tickSeries(topMinorTicks, 0, 4),
    tickSeries(bottomMajorTicks, 1, 7),
    tickSeries(bottomMinorTicks, 1, 5)
  ]
});

// Connector arrows, placed through the axes' own data-to-pixel mapping
function arrow(from, to, stroke, fill) {
  const dx = to[0] - from[0], dy = to[1] - from[1];
  const L = Math.hypot(dx, dy), ux = dx / L, uy = dy / L;
  const head = 11, half = 4.5;
  const bx = to[0] - ux * head, by = to[1] - uy * head;
  return [
    { type: 'line', silent: true, z: 10,
      shape: { x1: from[0], y1: from[1], x2: bx, y2: by },
      style: { stroke: stroke, lineWidth: 1 } },
    { type: 'polygon', silent: true, z: 10,
      shape: { points: [[to[0], to[1]], [bx - uy * half, by + ux * half], [bx + uy * half, by - ux * half]] },
      style: { fill: fill } }
  ];
}
const gfx = [];
gfx.push(...arrow(chart.convertToPixel({ gridIndex: 0 }, zoomArrowFrom),
                  chart.convertToPixel({ gridIndex: 1 }, zoomArrowTo), '#8a8a8a', '#8a8a8a'));
windowArrowFrom.forEach((f, i) => {
  gfx.push(...arrow(chart.convertToPixel({ gridIndex: 1 }, [f, windowA[1]]),
                    chart.convertToPixel({ gridIndex: 1 }, windowArrowTo[i]), '#9a9a9a', '#8a8a8a'));
});
chart.setOption({ graphic: gfx });
</script>
</body>
</html>
